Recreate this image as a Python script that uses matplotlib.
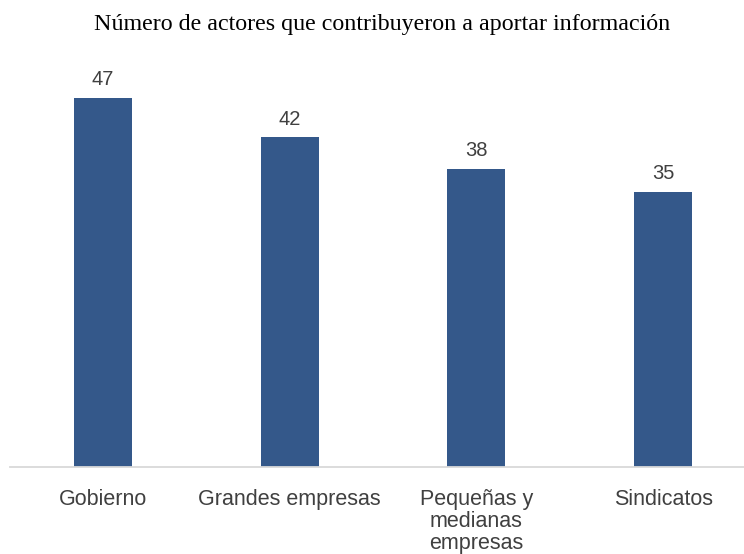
import matplotlib.pyplot as plt

categories = ['Gobierno', 'Grandes empresas', 'Pequeñas y\nmedianas\nempresas', 'Sindicatos']
values = [47, 42, 38, 35]

bar_color = '#34588a'
text_color = '#404040'

fig = plt.figure(figsize=(7.44, 5.54), dpi=100)
ax = fig.add_axes([9.5 / 744, (554 - 467) / 554, (744 - 9.5) / 744, (467 - 59) / 554])

x = range(len(categories))
bars = ax.bar(x, values, width=0.31, color=bar_color, zorder=2)

# value labels sit a little above each bar
for b, v in zip(bars, values):
    ax.text(b.get_x() + b.get_width() / 2, v + 1.65, str(v), ha='center', va='baseline',
            fontsize=14.5, color=text_color, family='Liberation Sans')

ax.set_xlim(-0.5, 3.5 - 12.5 / 187)
ax.set_ylim(0, 52)
ax.set_xticks(list(x))
ax.set_xticklabels(categories, fontsize=15.5, color=text_color, family='Liberation Sans',
                   linespacing=1.07)
ax.tick_params(axis='x', length=0, pad=15.5)
ax.set_yticks([])
for side in ['top', 'right', 'left']:
    ax.spines[side].set_visible(False)
ax.spines['bottom'].set_color('#d9d9d9')
ax.spines['bottom'].set_linewidth(1.3)

fig.text(382 / 744, 1 - 30 / 554, 'Número de actores que contribuyeron a aportar información',
         ha='center', va='baseline', fontsize=17.3, family='Liberation Serif', color='black')

fig.savefig('out.png', dpi=100)
